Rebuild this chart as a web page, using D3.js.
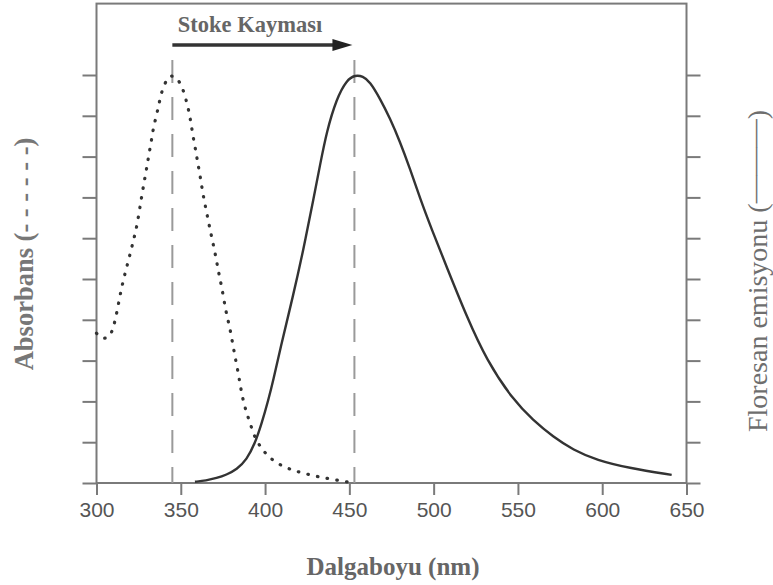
<!DOCTYPE html>
<html>
<head>
<meta charset="utf-8">
<script src="https://cdn.jsdelivr.net/npm/d3@7"></script>
<style>
  html, body { margin: 0; padding: 0; background: #ffffff; }
  svg { display: block; }
</style>
</head>
<body>
<svg id="chart" width="773" height="585"></svg>
<script>
// Absorption spectrum (dotted curve): wavelength in nm, relative absorbance
const absWavelength = [300, 302, 305, 308, 310, 312, 314.4, 316.5, 320, 322, 324, 326, 327.4, 328.8, 330.1, 331.3,
  332.7, 333.7, 335.7, 337.2, 338.7, 341.6, 344.5, 347.9, 351.1, 353.1, 355, 356.2, 357.4, 359, 360, 361.4,
  362.6, 364, 365.6, 368, 370.3, 372.4, 374.5, 376.8, 379.2, 381.3, 384.1, 385.4, 387.1, 389.1, 391.5,
  394, 398, 402.5, 408.8, 415.8, 422.7, 430.6, 437.5, 445.4, 450];
const absValue = [3.67, 3.58, 3.53, 3.6, 3.8, 4.16, 4.7, 5.07, 5.62, 5.96, 6.3, 6.82, 7.17, 7.5, 7.8, 8.1,
  8.42, 8.7, 9.03, 9.32, 9.6, 9.9, 10.0, 9.93, 9.68, 9.4, 9.08, 8.78, 8.46, 8.12, 7.86, 7.55,
  7.22, 6.9, 6.58, 6.08, 5.66, 5.16, 4.77, 4.18, 3.8, 3.28, 2.7, 2.36, 2.0, 1.71, 1.42,
  1.1, 0.84, 0.62, 0.44, 0.32, 0.24, 0.16, 0.11, 0.05, 0.02];

// Fluorescence emission spectrum (solid curve): wavelength in nm, relative intensity
const emWavelength = [358.4, 365, 371.3, 377, 383.2, 389.1, 394, 398, 401.9, 404.9, 408.8, 416.7, 422.7, 428.6,
  432.6, 436.5, 442.5, 448.4, 453.5, 458, 462.2, 468.1, 474.1, 480, 486, 491.9, 499, 507.7, 519.6, 531.4,
  547.2, 559, 570.9, 582.8, 596.7, 616.4, 641.2];
const emValue = [0.03, 0.06, 0.12, 0.2, 0.33, 0.57, 0.97, 1.46, 2.03, 2.52, 3.26, 4.6, 5.71, 6.94,
  7.79, 8.61, 9.43, 9.88, 10.0, 9.97, 9.84, 9.43, 8.94, 8.37, 7.7, 6.98, 6.2, 5.3, 4.08, 3.01,
  2.03, 1.54, 1.13, 0.81, 0.56, 0.36, 0.2];

// Peak wavelengths marked with vertical dashed guides
const peakWavelengths = [345, 453];

// Axis ticks
const xTickValues = [300, 350, 400, 450, 500, 550, 600, 650];
const yTickValues = [0, 1, 2, 3, 4, 5, 6, 7, 8, 9, 10];

// Text
const titleText = "Stoke Kayması";
const xAxisTitle = "Dalgaboyu (nm)";
const leftAxisTitle = "Absorbans (- - - - - -)";
const rightAxisLabel = "Floresan emisyonu (";
const rightAxisDash = "———";
const rightAxisClose = ")";

const svg = d3.select("#chart");

const x = d3.scaleLinear().domain([300, 650]).range([96.5, 686.5]);
const y = d3.scaleLinear().domain([0, 10]).range([483, 75]);
const yTop = 11.75;

const axisColor = "#7a7a7a";
const textGray = "#666666";

// Frame around the plot area
svg.append("rect")
  .attr("x", x(300)).attr("y", y(yTop))
  .attr("width", x(650) - x(300)).attr("height", y(0) - y(yTop))
  .attr("fill", "none").attr("stroke", axisColor).attr("stroke-width", 2);

// Left ticks (outward)
const gLeft = svg.append("g").attr("transform", `translate(${x(300)},0)`)
  .call(d3.axisLeft(y).tickValues(yTickValues).tickSize(14).tickFormat(""));
// Right ticks (outward)
const gRight = svg.append("g").attr("transform", `translate(${x(650)},0)`)
  .call(d3.axisRight(y).tickValues(yTickValues).tickSize(14).tickFormat(""));
// Bottom ticks and labels
const gBottom = svg.append("g").attr("transform", `translate(0,${y(0)})`)
  .call(d3.axisBottom(x).tickValues(xTickValues).tickSize(12).tickPadding(7));

[gLeft, gRight, gBottom].forEach(g => {
  g.select(".domain").remove();
  g.selectAll(".tick line").attr("stroke", axisColor).attr("stroke-width", 2);
});
gBottom.selectAll(".tick text")
  .attr("fill", "#555555")
  .style("font-family", "'Liberation Sans', Arial, sans-serif")
  .style("font-size", "21px");

// Dashed guides at the two peaks
svg.append("g").selectAll("line")
  .data(peakWavelengths)
  .join("line")
  .attr("x1", d => x(d)).attr("x2", d => x(d))
  .attr("y1", 60).attr("y2", y(0))
  .attr("stroke", "#9a9a9a").attr("stroke-width", 2)
  .attr("stroke-dasharray", "23 14");

const absData = absWavelength.map((w, i) => [w, absValue[i]]);
const emData = emWavelength.map((w, i) => [w, emValue[i]]);

const line = d3.line()
  .x(d => x(d[0])).y(d => y(d[1]))
  .curve(d3.curveBasis);

// Absorption curve (dotted)
svg.append("path")
  .datum(absData)
  .attr("d", line)
  .attr("fill", "none")
  .attr("stroke", "#333333")
  .attr("stroke-width", 3.2)
  .attr("stroke-linecap", "round")
  .attr("stroke-dasharray", "0.5 9.3");

// Emission curve (solid)
svg.append("path")
  .datum(emData)
  .attr("d", line)
  .attr("fill", "none")
  .attr("stroke", "#333333")
  .attr("stroke-width", 2.4);

// Stokes shift arrow between the two peaks
const arrowY = 45;
const arrowStart = x(peakWavelengths[0]);
const arrowEnd = x(peakWavelengths[1]) - 2;
svg.append("line")
  .attr("x1", arrowStart).attr("x2", arrowEnd - 16)
  .attr("y1", arrowY).attr("y2", arrowY)
  .attr("stroke", "#333333").attr("stroke-width", 3.5);
svg.append("path")
  .attr("d", `M${arrowEnd},${arrowY} L${arrowEnd - 20},${arrowY - 6} L${arrowEnd - 20},${arrowY + 6} Z`)
  .attr("fill", "#222222");

svg.append("text")
  .attr("x", 250).attr("y", 32)
  .attr("text-anchor", "middle")
  .attr("fill", textGray)
  .style("font-family", "'Liberation Serif', 'Times New Roman', serif")
  .style("font-weight", "bold")
  .style("font-size", "22.5px")
  .text(titleText);

// X axis title
svg.append("text")
  .attr("x", 393).attr("y", 575)
  .attr("text-anchor", "middle")
  .attr("fill", textGray)
  .style("font-family", "'Liberation Serif', 'Times New Roman', serif")
  .style("font-weight", "bold")
  .style("font-size", "25px")
  .text(xAxisTitle);

// Left axis title
svg.append("text")
  .attr("transform", "translate(33,254) rotate(-90)")
  .attr("text-anchor", "middle")
  .attr("fill", "#777777")
  .style("font-family", "'Liberation Serif', 'Times New Roman', serif")
  .style("font-weight", "bold")
  .style("font-size", "26.5px")
  .text(leftAxisTitle);

// Right axis label
const rt = svg.append("text")
  .attr("transform", "translate(767,271) rotate(-90)")
  .attr("text-anchor", "middle")
  .attr("fill", "#6e6e6e")
  .style("font-family", "'Liberation Serif', 'Times New Roman', serif")
  .style("font-size", "28px");
rt.append("tspan").text(rightAxisLabel);
rt.append("tspan").attr("dy", -4).text(rightAxisDash);
rt.append("tspan").attr("dy", 4).text(rightAxisClose);
</script>
</body>
</html>
